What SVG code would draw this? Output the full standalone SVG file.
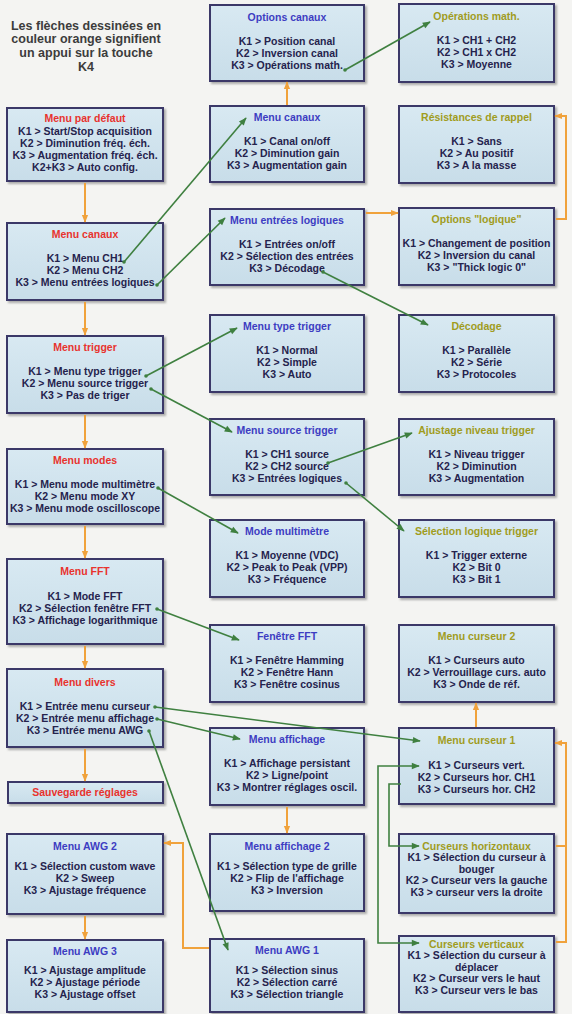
<svg xmlns="http://www.w3.org/2000/svg" width="572" height="1014" viewBox="0 0 572 1014">
<style>
.bx{fill:url(#gb);stroke:#3b3968;stroke-width:2;filter:url(#sh)}
text{font-family:"Liberation Sans",Arial,sans-serif;font-weight:bold;font-size:10.5px;text-anchor:middle;fill:#25234d}
.tl{fill:#e8332e}
.tm{fill:#3d3dc2}
.tr{fill:#a09c1e}
.note{font-size:12.5px;fill:#3c3c3c}
.og{fill:none;stroke:#f0a23c;stroke-width:2}
.gr{fill:none;stroke:#3f8040;stroke-width:1.6}
</style>
<defs>
<linearGradient id="gb" x1="0" y1="0" x2="0" y2="1">
<stop offset="0" stop-color="#d8e9f2"/>
<stop offset="1" stop-color="#c8dde9"/>
</linearGradient>
<filter id="sh" x="-5%" y="-5%" width="115%" height="120%">
<feDropShadow dx="2" dy="2" stdDeviation="1.2" flood-color="#555" flood-opacity="0.45"/>
</filter>
<marker id="ao" viewBox="0 0 10 10" refX="9" refY="5" markerUnits="userSpaceOnUse" markerWidth="8" markerHeight="8" orient="auto">
<path d="M0,1 L10,5 L0,9 z" fill="#f0a23c"/>
</marker>
<marker id="ag" viewBox="0 0 10 10" refX="9" refY="5" markerUnits="userSpaceOnUse" markerWidth="9" markerHeight="8" orient="auto-start-reverse">
<path d="M0,1 L10,5 L0,9 z" fill="#3f8040"/>
</marker>
<marker id="dg" viewBox="0 0 4 4" refX="2" refY="2" markerUnits="userSpaceOnUse" markerWidth="4" markerHeight="4">
<circle cx="2" cy="2" r="1.8" fill="#3f8040"/>
</marker>
</defs>
<rect width="572" height="1014" fill="#f4f4f2"/>

<g id="note">
<text class="note" x="86" y="29.5">Les flèches dessinées en</text>
<text class="note" x="86" y="43">couleur orange signifient</text>
<text class="note" x="86" y="56.5">un appui sur la touche</text>
<text class="note" x="86" y="70.5">K4</text>
</g>

<!-- Left column -->
<g id="menu-defaut">
<rect class="bx" x="7" y="108" width="156" height="73"/>
<text class="tl" x="85" y="122">Menu par défaut</text>
<text x="85" y="134.5">K1 &gt; Start/Stop acquisition</text>
<text x="85" y="146.8">K2 &gt; Diminution fréq. éch.</text>
<text x="85" y="159">K3 &gt; Augmentation fréq. éch.</text>
<text x="85" y="171.3">K2+K3 &gt; Auto config.</text>
</g>
<g id="menu-canaux-l">
<rect class="bx" x="7" y="223" width="156" height="77"/>
<text class="tl" x="85" y="238">Menu canaux</text>
<text x="85" y="261.5">K1 &gt; Menu CH1</text>
<text x="85" y="273.7">K2 &gt; Menu CH2</text>
<text x="85" y="285.9">K3 &gt; Menu entrées logiques</text>
</g>
<g id="menu-trigger">
<rect class="bx" x="7" y="336" width="156" height="77"/>
<text class="tl" x="85" y="351">Menu trigger</text>
<text x="85" y="374.5">K1 &gt; Menu type trigger</text>
<text x="85" y="386.7">K2 &gt; Menu source trigger</text>
<text x="85" y="398.9">K3 &gt; Pas de triger</text>
</g>
<g id="menu-modes">
<rect class="bx" x="7" y="449" width="156" height="75"/>
<text class="tl" x="85" y="464">Menu modes</text>
<text x="85" y="487.5">K1 &gt; Menu mode multimètre</text>
<text x="85" y="499.7">K2 &gt; Menu mode XY</text>
<text x="85" y="511.9">K3 &gt; Menu mode oscilloscope</text>
</g>
<g id="menu-fft">
<rect class="bx" x="7" y="559" width="156" height="85"/>
<text class="tl" x="85" y="575">Menu FFT</text>
<text x="85" y="600">K1 &gt; Mode FFT</text>
<text x="85" y="612">K2 &gt; Sélection fenêtre FFT</text>
<text x="85" y="624">K3 &gt; Affichage logarithmique</text>
</g>
<g id="menu-divers">
<rect class="bx" x="7" y="669" width="156" height="78"/>
<text class="tl" x="85" y="686">Menu divers</text>
<text x="85" y="710">K1 &gt; Entrée menu curseur</text>
<text x="85" y="722">K2 &gt; Entrée menu affichage</text>
<text x="85" y="734">K3 &gt; Entrée menu AWG</text>
</g>
<g id="sauvegarde">
<rect class="bx" x="8" y="782" width="155" height="21"/>
<text class="tl" x="85" y="796">Sauvegarde réglages</text>
</g>
<g id="menu-awg2">
<rect class="bx" x="7" y="834" width="156" height="80"/>
<text class="tm" x="85" y="849.5">Menu AWG 2</text>
<text x="85" y="869.5">K1 &gt; Sélection custom wave</text>
<text x="85" y="881.5">K2 &gt; Sweep</text>
<text x="85" y="893.5">K3 &gt; Ajustage fréquence</text>
</g>
<g id="menu-awg3">
<rect class="bx" x="7" y="940" width="156" height="72"/>
<text class="tm" x="85" y="954.5">Menu AWG 3</text>
<text x="85" y="974">K1 &gt; Ajustage amplitude</text>
<text x="85" y="986">K2 &gt; Ajustage période</text>
<text x="85" y="998">K3 &gt; Ajustage offset</text>
</g>

<!-- Middle column -->
<g id="options-canaux">
<rect class="bx" x="210" y="5" width="154" height="76"/>
<text class="tm" x="287" y="21">Options canaux</text>
<text x="287" y="45">K1 &gt; Position canal</text>
<text x="287" y="57.2">K2 &gt; Inversion canal</text>
<text x="287" y="69.4">K3 &gt; Opérations math.</text>
</g>
<g id="menu-canaux-m">
<rect class="bx" x="210" y="106" width="154" height="76"/>
<text class="tm" x="287" y="121">Menu canaux</text>
<text x="287" y="144.5">K1 &gt; Canal on/off</text>
<text x="287" y="156.7">K2 &gt; Diminution gain</text>
<text x="287" y="168.9">K3 &gt; Augmentation gain</text>
</g>
<g id="menu-entrees">
<rect class="bx" x="210" y="209" width="154" height="76"/>
<text class="tm" x="287" y="224">Menu entrées logiques</text>
<text x="287" y="247.5">K1 &gt; Entrées on/off</text>
<text x="287" y="259.7">K2 &gt; Sélection des entrées</text>
<text x="287" y="271.9">K3 &gt; Décodage</text>
</g>
<g id="menu-type-trigger">
<rect class="bx" x="210" y="315" width="154" height="77"/>
<text class="tm" x="287" y="330">Menu type trigger</text>
<text x="287" y="353.5">K1 &gt; Normal</text>
<text x="287" y="365.7">K2 &gt; Simple</text>
<text x="287" y="377.9">K3 &gt; Auto</text>
</g>
<g id="menu-source-trigger">
<rect class="bx" x="210" y="419" width="154" height="76"/>
<text class="tm" x="287" y="434">Menu source trigger</text>
<text x="287" y="457.5">K1 &gt; CH1 source</text>
<text x="287" y="469.7">K2 &gt; CH2 source</text>
<text x="287" y="481.9">K3 &gt; Entrées logiques</text>
</g>
<g id="mode-multimetre">
<rect class="bx" x="210" y="520" width="154" height="77"/>
<text class="tm" x="287" y="535">Mode multimètre</text>
<text x="287" y="558.5">K1 &gt; Moyenne (VDC)</text>
<text x="287" y="570.7">K2 &gt; Peak to Peak (VPP)</text>
<text x="287" y="582.9">K3 &gt; Fréquence</text>
</g>
<g id="fenetre-fft">
<rect class="bx" x="210" y="625" width="154" height="77"/>
<text class="tm" x="287" y="640">Fenêtre FFT</text>
<text x="287" y="663.5">K1 &gt; Fenêtre Hamming</text>
<text x="287" y="675.7">K2 &gt; Fenêtre Hann</text>
<text x="287" y="687.9">K3 &gt; Fenêtre cosinus</text>
</g>
<g id="menu-affichage">
<rect class="bx" x="210" y="728" width="154" height="77"/>
<text class="tm" x="287" y="743">Menu affichage</text>
<text x="287" y="766.5">K1 &gt; Affichage persistant</text>
<text x="287" y="778.7">K2 &gt; Ligne/point</text>
<text x="287" y="790.9">K3 &gt; Montrer réglages oscil.</text>
</g>
<g id="menu-affichage2">
<rect class="bx" x="210" y="834" width="154" height="77"/>
<text class="tm" x="287" y="849.5">Menu affichage 2</text>
<text x="287" y="869.5">K1 &gt; Sélection type de grille</text>
<text x="287" y="881.5">K2 &gt; Flip de l'affichage</text>
<text x="287" y="893.5">K3 &gt; Inversion</text>
</g>
<g id="menu-awg1">
<rect class="bx" x="210" y="939" width="154" height="73"/>
<text class="tm" x="287" y="954">Menu AWG 1</text>
<text x="287" y="974">K1 &gt; Sélection sinus</text>
<text x="287" y="986">K2 &gt; Sélection carré</text>
<text x="287" y="998">K3 &gt; Sélection triangle</text>
</g>

<!-- Right column -->
<g id="operations-math">
<rect class="bx" x="399" y="4" width="155" height="78"/>
<text class="tr" x="476.5" y="20">Opérations math.</text>
<text x="476.5" y="44">K1 &gt; CH1 + CH2</text>
<text x="476.5" y="56.2">K2 &gt; CH1 x CH2</text>
<text x="476.5" y="68.4">K3 &gt; Moyenne</text>
</g>
<g id="resistances">
<rect class="bx" x="399" y="106" width="155" height="77"/>
<text class="tr" x="476.5" y="121">Résistances de rappel</text>
<text x="476.5" y="144.5">K1 &gt; Sans</text>
<text x="476.5" y="156.7">K2 &gt; Au positif</text>
<text x="476.5" y="168.9">K3 &gt; A la masse</text>
</g>
<g id="options-logique">
<rect class="bx" x="399" y="208" width="155" height="77"/>
<text class="tr" x="476.5" y="223">Options "logique"</text>
<text x="476.5" y="246.5">K1 &gt; Changement de position</text>
<text x="476.5" y="258.7">K2 &gt; Inversion du canal</text>
<text x="476.5" y="270.9">K3 &gt; "Thick logic 0"</text>
</g>
<g id="decodage">
<rect class="bx" x="399" y="315" width="155" height="77"/>
<text class="tr" x="476.5" y="330">Décodage</text>
<text x="476.5" y="353.5">K1 &gt; Parallèle</text>
<text x="476.5" y="365.7">K2 &gt; Série</text>
<text x="476.5" y="377.9">K3 &gt; Protocoles</text>
</g>
<g id="ajustage-niveau">
<rect class="bx" x="399" y="419" width="155" height="76"/>
<text class="tr" x="476.5" y="434">Ajustage niveau trigger</text>
<text x="476.5" y="457.5">K1 &gt; Niveau trigger</text>
<text x="476.5" y="469.7">K2 &gt; Diminution</text>
<text x="476.5" y="481.9">K3 &gt; Augmentation</text>
</g>
<g id="selection-logique">
<rect class="bx" x="399" y="520" width="155" height="77"/>
<text class="tr" x="476.5" y="535">Sélection logique trigger</text>
<text x="476.5" y="558.5">K1 &gt; Trigger externe</text>
<text x="476.5" y="570.7">K2 &gt; Bit 0</text>
<text x="476.5" y="582.9">K3 &gt; Bit 1</text>
</g>
<g id="menu-curseur2">
<rect class="bx" x="399" y="625" width="155" height="77"/>
<text class="tr" x="476.5" y="640">Menu curseur 2</text>
<text x="476.5" y="663.5">K1 &gt; Curseurs auto</text>
<text x="476.5" y="675.7">K2 &gt; Verrouillage curs. auto</text>
<text x="476.5" y="687.9">K3 &gt; Onde de réf.</text>
</g>
<g id="menu-curseur1">
<rect class="bx" x="399" y="728" width="155" height="76"/>
<text class="tr" x="476.5" y="744">Menu curseur 1</text>
<text x="476.5" y="768.5">K1 &gt; Curseurs vert.</text>
<text x="476.5" y="780.7">K2 &gt; Curseurs hor. CH1</text>
<text x="476.5" y="792.9">K3 &gt; Curseurs hor. CH2</text>
</g>
<g id="curseurs-horizontaux">
<rect class="bx" x="399" y="834" width="155" height="79"/>
<text class="tr" x="476.5" y="849.5">Curseurs horizontaux</text>
<text x="476.5" y="861">K1 &gt; Sélection du curseur à</text>
<text x="476.5" y="872.7">bouger</text>
<text x="476.5" y="884.4">K2 &gt; Curseur vers la gauche</text>
<text x="476.5" y="896.1">K3 &gt; curseur vers la droite</text>
</g>
<g id="curseurs-verticaux">
<rect class="bx" x="399" y="936" width="155" height="76"/>
<text class="tr" x="476.5" y="947.7">Curseurs verticaux</text>
<text x="476.5" y="959.2">K1 &gt; Sélection du curseur à</text>
<text x="476.5" y="970.7">déplacer</text>
<text x="476.5" y="982.2">K2 &gt; Curseur vers le haut</text>
<text x="476.5" y="993.7">K3 &gt; Curseur vers le bas</text>
</g>

<g id="connectors">
<!-- orange (K4) -->
<path class="og" marker-end="url(#ao)" d="M85,183 V222"/>
<path class="og" marker-end="url(#ao)" d="M85,302 V335"/>
<path class="og" marker-end="url(#ao)" d="M85,415 V448"/>
<path class="og" marker-end="url(#ao)" d="M85,526 V558"/>
<path class="og" marker-end="url(#ao)" d="M85,646 V668"/>
<path class="og" marker-end="url(#ao)" d="M85,749 V781"/>
<path class="og" marker-end="url(#ao)" d="M85,916 V939"/>
<path class="og" marker-end="url(#ao)" d="M287,105 V82"/>
<path class="og" marker-end="url(#ao)" d="M287,807 V833"/>
<path class="og" marker-end="url(#ao)" d="M476,727 V703"/>
<path class="og" marker-end="url(#ao)" d="M366,213 H398"/>
<path class="og" marker-end="url(#ao)" d="M556,219 H566 V116 H555"/>
<path class="og" marker-end="url(#ao)" d="M556,942 H566 V743 H555"/>
<path class="og" d="M556,846 H566"/>
<path class="og" marker-end="url(#ao)" d="M209,948 H183 V843 H164"/>
<!-- green -->
<path class="gr" marker-start="url(#dg)" marker-end="url(#ag)" d="M345,70 L430,22"/>
<path class="gr" marker-start="url(#dg)" marker-end="url(#ag)" d="M124,262 L246,118"/>
<path class="gr" marker-start="url(#dg)" marker-end="url(#ag)" d="M157,285 L225,218"/>
<path class="gr" marker-start="url(#dg)" marker-end="url(#ag)" d="M323,272 L428,325"/>
<path class="gr" marker-start="url(#dg)" marker-end="url(#ag)" d="M146,376 L237,328"/>
<path class="gr" marker-start="url(#dg)" marker-end="url(#ag)" d="M151,389 L232,432"/>
<path class="gr" marker-start="url(#dg)" marker-end="url(#ag)" d="M328,463 L412,433"/>
<path class="gr" marker-start="url(#dg)" marker-end="url(#ag)" d="M346,483 L404,531"/>
<path class="gr" marker-start="url(#dg)" marker-end="url(#ag)" d="M158,488 L238,533"/>
<path class="gr" marker-start="url(#dg)" marker-end="url(#ag)" d="M157,609 L239,640"/>
<path class="gr" marker-start="url(#dg)" marker-end="url(#ag)" d="M155,707 L420,741"/>
<path class="gr" marker-start="url(#dg)" marker-end="url(#ag)" d="M157,719 L240,739"/>
<path class="gr" marker-start="url(#dg)" marker-end="url(#ag)" d="M149,731 L228,950"/>
<path class="gr" marker-start="url(#ag)" marker-end="url(#ag)" d="M419,766 H378 V943 H419"/>
<path class="gr" marker-end="url(#ag)" d="M401,784 H389 V846 H419"/>
</g>
</svg>
